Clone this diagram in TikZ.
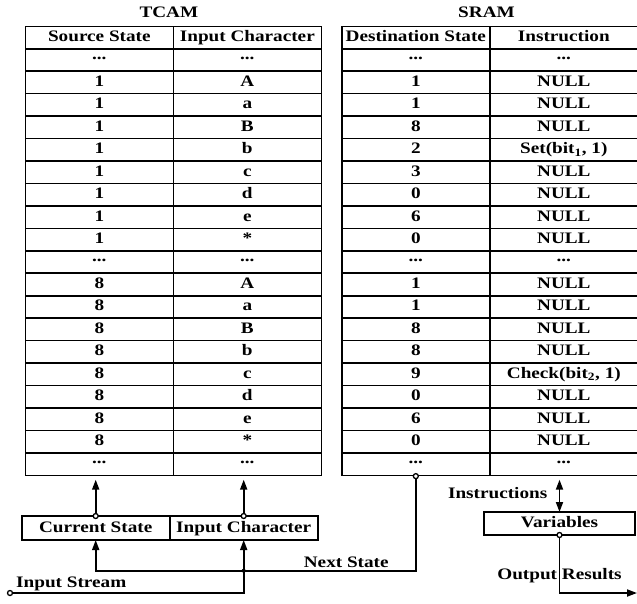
\documentclass[tikz,border=0pt]{standalone}
\usepackage{fontspec}
\setmainfont{Liberation Serif}[FakeStretch=1.2]
\usetikzlibrary{matrix,arrows.meta}
\newcommand{\midots}{\raisebox{4.5pt}{...}}

\begin{document}
\begin{tikzpicture}[x=1pt, y=-1pt,
  font=\bfseries\fontsize{16}{19}\selectfont,
  cell/.style={draw, line width=1.6pt, minimum width=148pt, minimum height=22.45pt, inner sep=1pt, text height=11pt, text depth=3pt, anchor=center},
  box/.style={draw, line width=1.6pt, minimum width=148pt, minimum height=24pt, inner sep=1pt, outer sep=0pt, text height=11pt, text depth=3pt},
  lbl/.style={inner sep=1pt},
  wire/.style={line width=1.8pt},
  tip/.style={-{Triangle[length=10pt, width=7pt]}},
  ring/.style={draw, fill=white, line width=1.3pt}]
  \useasboundingbox (0,0) rectangle (637,603);
  \node[lbl] (tcamlbl) at (168.9,12) {TCAM};
  \node[lbl] (sramlbl) at (486.5,12) {SRAM};
  \matrix (tcam) [matrix of nodes, nodes={cell}, row sep=-1.6pt, column sep=-1.6pt, anchor=north west] at (21,22) {
    Source State & Input Character \\
    \midots & \midots \\
    1 & A \\
    1 & a \\
    1 & B \\
    1 & b \\
    1 & c \\
    1 & d \\
    1 & e \\
    1 & * \\
    \midots & \midots \\
    8 & A \\
    8 & a \\
    8 & B \\
    8 & b \\
    8 & c \\
    8 & d \\
    8 & e \\
    8 & * \\
    \midots & \midots \\
  };
  \matrix (sram) [matrix of nodes, nodes={cell}, row sep=-1.6pt, column sep=-1.6pt, anchor=north west] at (337.5,22) {
    Destination State & Instruction \\
    \midots & \midots \\
    1 & NULL \\
    1 & NULL \\
    8 & NULL \\
    2 & Set(bit\textsubscript{1}, 1) \\
    3 & NULL \\
    0 & NULL \\
    6 & NULL \\
    0 & NULL \\
    \midots & \midots \\
    1 & NULL \\
    1 & NULL \\
    8 & NULL \\
    8 & NULL \\
    9 & Check(bit\textsubscript{2}, 1) \\
    0 & NULL \\
    6 & NULL \\
    0 & NULL \\
    \midots & \midots \\
  };
  \node[box, anchor=north west] (cur) at (21.7,516) {Current State};
  \node[box, anchor=west] (inchar) at (cur.east) {Input Character};
  \node[box, minimum width=151pt, minimum height=23pt, anchor=north west] (vars) at (484,512) {Variables};
  \coordinate (instream) at (10,593);
  \coordinate (nsy) at (0,570.7);
  \coordinate (ns) at (inchar.south |- nsy);
  \coordinate (outend) at (637,593);
  % into the TCAM
  \draw[wire, tip] (cur.north) -- (cur.north |- tcam.south);
  \draw[wire, tip] (inchar.north) -- (inchar.north |- tcam.south);
  % input stream and next state
  \draw[wire, tip] (instream) -| (inchar.south);
  \draw[wire, tip] (sram-20-1.south) |- (ns) -| (cur.south);
  \fill (ns) circle (2pt);
  \node[lbl, anchor=south west] (islbl) at ([xshift=5pt, yshift=1pt]instream) {Input Stream};
  \node[lbl, anchor=south east] (nslbl) at ([xshift=-26pt, yshift=2pt]sram-20-1.south |- nsy) {Next State};
  % instructions and output
  \draw[wire, {Triangle[length=10pt, width=7pt]}-{Triangle[length=10pt, width=7pt]}] (vars.north |- sram.south) -- (vars.north);
  \node[lbl, anchor=east] (instrlbl) at ([xshift=-11pt]vars.north |- 0,493) {Instructions};
  \draw[wire, tip] (vars.south) |- (outend);
  \node[lbl] (outlbl) at (vars.south |- 0,576) {Output Results};
  % open ends
  \draw[ring] (cur.north) circle (2.5pt);
  \draw[ring] (inchar.north) circle (2.5pt);
  \draw[ring] (instream) circle (2.5pt);
  \draw[ring] (sram-20-1.south) circle (2.5pt);
  \draw[ring] (vars.south) circle (2.5pt);
\end{tikzpicture}
\end{document}
